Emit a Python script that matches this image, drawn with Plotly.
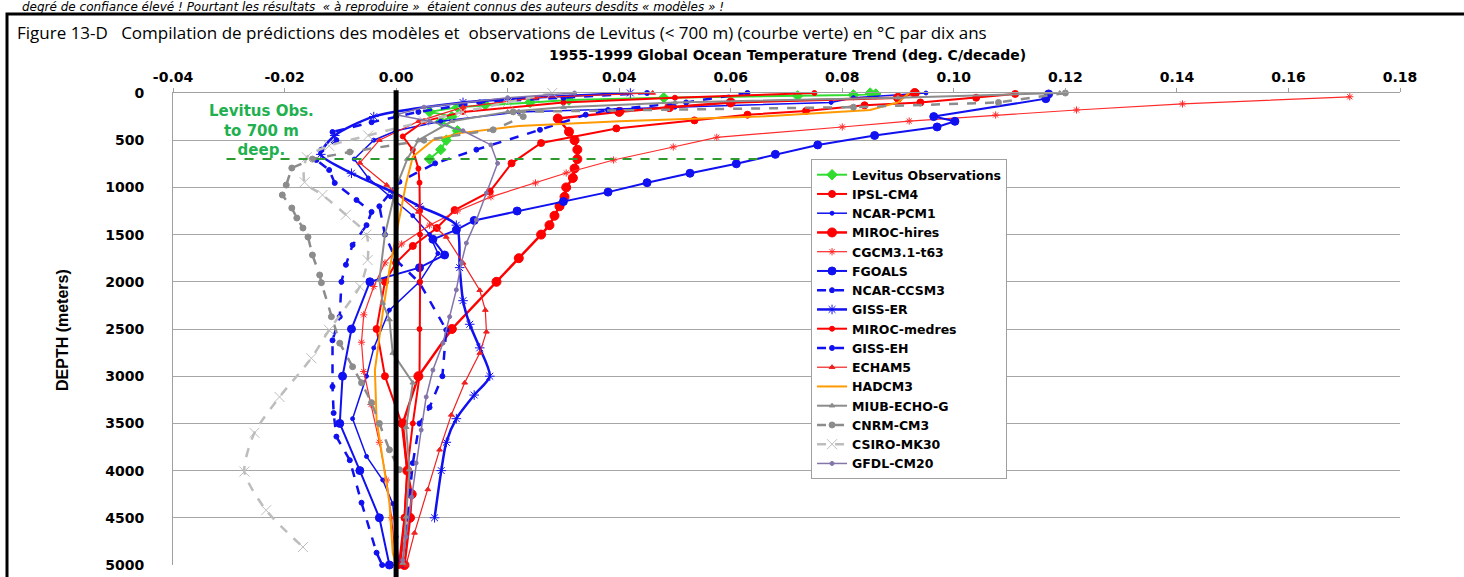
import plotly.graph_objects as go

# ---------------- data (depth in m, trend in deg C / decade) ----------------
x_tick_vals = [-0.04, -0.02, 0.00, 0.02, 0.04, 0.06, 0.08, 0.10, 0.12, 0.14, 0.16, 0.18]
x_tick_text = ["-0.04", "-0.02", "0.00", "0.02", "0.04", "0.06", "0.08", "0.10", "0.12", "0.14", "0.16", "0.18"]
y_tick_vals = [0, 500, 1000, 1500, 2000, 2500, 3000, 3500, 4000, 4500, 5000]
y_tick_text = ["0", "500", "1000", "1500", "2000", "2500", "3000", "3500", "4000", "4500", "5000"]

levitus_depth = [0, 10, 20, 30, 50, 75, 100, 125, 150, 200, 250, 300, 400, 500, 600, 700]
levitus_trend = [0.085, 0.086, 0.082, 0.072, 0.048, 0.031, 0.024, 0.016, 0.011, 0.006, 0.010, 0.008, 0.011, 0.009, 0.008, 0.006]

ipsl_depth = [10, 50, 100, 130, 190, 230, 290, 375, 530, 745, 1045, 1240, 1430, 1620, 1800, 2000, 2500, 3000, 3500, 4000, 4500, 5000]
ipsl_trend = [0.111, 0.104, 0.094, 0.084, 0.0735, 0.063, 0.0535, 0.0395, 0.026, 0.0207, 0.0168, 0.0105, 0.0073, 0.003, 0.000, -0.002, -0.0035, -0.002, 0.001, 0.002, 0.0015, 0.0005]

pcm1_depth = [0, 50, 100, 150, 200, 300, 400, 500, 700, 900, 1100, 1300, 1500, 1700, 2000, 2300, 2700, 3000, 3450, 3850, 4100, 4350, 4700, 5000]
pcm1_trend = [0.095, 0.082, 0.078, 0.05, 0.022, 0.008, 0.0, -0.004, -0.0075, -0.005, -0.001, 0.003, 0.006, 0.0075, 0.0042, -0.0012, -0.004, -0.0053, -0.0078, -0.0053, -0.0024, -0.0006, 0.0, 0.0005]

mirochi_depth = [0, 50, 100, 150, 200, 270, 410, 500, 600, 700, 800, 900, 1000, 1100, 1200, 1300, 1400, 1500, 1750, 2000, 2500, 3000, 3500, 4000, 4250, 4500, 5000]
mirochi_trend = [0.093, 0.09, 0.06, 0.049, 0.04, 0.029, 0.031, 0.032, 0.0325, 0.0325, 0.032, 0.0317, 0.0305, 0.0302, 0.0293, 0.0284, 0.0275, 0.026, 0.022, 0.018, 0.010, 0.004, 0.0012, 0.002, 0.0028, 0.0025, 0.0015]

cgcm_depth = [40, 116, 180, 233, 297, 360, 470, 572, 710, 847, 953, 1100, 1250, 1400, 1600, 1800, 2050, 2350, 2640, 2950, 3300, 3700, 4100, 4500, 5000]
cgcm_trend = [0.171, 0.141, 0.122, 0.1075, 0.092, 0.080, 0.0575, 0.0497, 0.039, 0.0305, 0.025, 0.017, 0.011, 0.006, 0.001, -0.002, -0.004, -0.0058, -0.0062, -0.0058, -0.0045, -0.003, -0.0017, -0.0008, 0.0]

fgoals_depth = [10, 60, 250, 300, 360, 450, 550, 650, 750, 850, 950, 1050, 1150, 1250, 1350, 1450, 1550, 1716, 1850, 2000, 2500, 3000, 3500, 4000, 4500, 5000]
fgoals_trend = [0.117, 0.1165, 0.0964, 0.1002, 0.097, 0.0858, 0.0756, 0.068, 0.061, 0.0527, 0.045, 0.038, 0.030, 0.0217, 0.014, 0.0108, 0.0066, 0.0087, 0.0042, -0.0047, -0.008, -0.0096, -0.0101, -0.0065, -0.003, -0.0012]

ccsm3_depth = [0, 100, 180, 230, 390, 600, 745, 940, 1200, 1500, 1770, 2010, 2510, 3000, 3330, 3500, 3920, 4500, 5000]
ccsm3_trend = [0.063, 0.052, 0.038, 0.034, 0.0258, 0.0144, 0.007, 0.0006, -0.003, -0.002, 0.0, 0.0042, 0.009, 0.0083, 0.006, 0.0042, 0.003, 0.002, 0.001]

gisser_depth = [0, 100, 250, 450, 650, 850, 1050, 1200, 1400, 1850, 2200, 2450, 2700, 3000, 3200, 3450, 3700, 4000, 4500]
gisser_trend = [0.042, 0.012, -0.004, -0.011, -0.0135, -0.008, -0.0006, 0.0042, 0.0108, 0.0114, 0.012, 0.0132, 0.015, 0.0168, 0.014, 0.0108, 0.009, 0.0081, 0.0069]

mirocmed_depth = [0, 50, 100, 200, 300, 460, 600, 800, 950, 1250, 1500, 2000, 2500, 3000, 3500, 4000, 4500, 5000]
mirocmed_trend = [0.075, 0.05, 0.03, 0.012, 0.005, 0.0012, 0.003, 0.004, 0.0042, 0.0043, 0.0043, 0.0043, 0.0042, 0.0042, 0.003, 0.002, 0.0015, 0.0008]

gisseh_depth = [0, 50, 100, 200, 250, 310, 413, 500, 600, 710, 816, 953, 1133, 1260, 1400, 1610, 1820, 2000, 2370, 2620, 3110, 3390, 3640, 3890, 4340, 4870, 5000]
gisseh_trend = [0.045, 0.03, 0.015, 0.004, 0.0, -0.0044, -0.0114, -0.0107, -0.0134, -0.0143, -0.012, -0.011, -0.0071, -0.0044, -0.0053, -0.0078, -0.009, -0.0098, -0.0101, -0.0114, -0.0114, -0.0112, -0.0107, -0.0083, -0.0062, -0.0035, -0.0025]

echam5_depth = [0, 50, 150, 300, 500, 740, 975, 1260, 1525, 1800, 2090, 2300, 2530, 2755, 3070, 3410, 3780, 4200, 4660, 5000]
echam5_trend = [0.046, 0.025, 0.012, 0.004, -0.003, -0.0065, -0.0017, 0.004, 0.009, 0.012, 0.015, 0.016, 0.0162, 0.015, 0.0123, 0.0099, 0.0078, 0.0057, 0.0033, 0.0018]

hadcm3_depth = [0, 100, 180, 250, 300, 350, 425, 500, 675, 955, 1200, 1500, 1875, 2330, 2935, 3460, 3860, 4340, 4870, 5000]
hadcm3_trend = [0.092, 0.09, 0.085, 0.065, 0.04, 0.022, 0.0114, 0.0066, 0.003, 0.0018, 0.001, 0.0, -0.0012, -0.0024, -0.0038, -0.0035, -0.0024, -0.0012, -0.0006, 0.0]

miub_depth = [0, 50, 100, 150, 200, 300, 500, 700, 1000, 1500, 1980, 2225, 2400, 2755, 3070, 3540, 3990, 4490, 4980]
miub_trend = [0.119, 0.09, 0.05, 0.03, 0.02, 0.01, 0.004, 0.002, 0.0, -0.002, -0.003, -0.0024, -0.0012, -0.0006, 0.003, 0.0018, 0.0024, 0.0018, 0.0012]

cnrm_depth = [0, 100, 150, 200, 250, 390, 500, 625, 700, 795, 975, 1080, 1218, 1324, 1430, 1525, 1716, 1928, 2010, 2370, 2650, 2900, 3070, 3280, 3500, 3780, 3990]
cnrm_trend = [0.12, 0.108, 0.082, 0.021, 0.0228, 0.0174, 0.005, -0.0083, -0.015, -0.0187, -0.0197, -0.0204, -0.0187, -0.0178, -0.0167, -0.0158, -0.015, -0.0137, -0.0134, -0.0116, -0.0101, -0.0078, -0.0062, -0.0044, -0.003, -0.0012, 0.0006]

csiro_depth = [0, 100, 200, 300, 450, 560, 680, 945, 1080, 1290, 1500, 1770, 2050, 2510, 2810, 3220, 3600, 4010, 4420, 4810]
csiro_trend = [0.028, 0.02, 0.012, 0.005, -0.005, -0.012, -0.016, -0.0164, -0.0132, -0.009, -0.0053, -0.0051, -0.0065, -0.012, -0.0152, -0.0209, -0.0254, -0.0272, -0.0233, -0.0167]

gfdl_depth = [0, 50, 150, 230, 300, 400, 550, 745, 1060, 1345, 1590, 1800, 2085, 2370, 2650, 2935, 3220, 3570, 3920, 4280, 4700, 4950]
gfdl_trend = [0.032, 0.02, 0.005, 0.0, 0.006, 0.012, 0.017, 0.0182, 0.0162, 0.0144, 0.0126, 0.0117, 0.0108, 0.0096, 0.0084, 0.0066, 0.0054, 0.0045, 0.0036, 0.0028, 0.0018, 0.0012]

levitus_line_depth = [700, 700]
levitus_line_trend = [-0.0304, 0.0657]

# ---------------- styles ----------------
RED = "#FF0000"
BLUE = "#1010F0"
GREEN = "#2FDC2F"
ORANGE = "#FF9A00"
GRAY = "#8C8C8C"
LGRAY = "#BDBDBD"
PGRAY = "#8475A8"

series = [
    ("Levitus Observations", levitus_trend, levitus_depth, GREEN, 2, "solid", "diamond", 8, "linear"),
    ("IPSL-CM4", ipsl_trend, ipsl_depth, RED, 2, "solid", "circle", 7, "linear"),
    ("NCAR-PCM1", pcm1_trend, pcm1_depth, BLUE, 1.5, "solid", "circle", 4, "linear"),
    ("MIROC-hires", mirochi_trend, mirochi_depth, RED, 2.5, "solid", "circle", 9, "linear"),
    ("CGCM3.1-t63", cgcm_trend, cgcm_depth, "#FF2A2A", 1.2, "solid", "asterisk-open", 6, "linear"),
    ("FGOALS", fgoals_trend, fgoals_depth, BLUE, 2, "solid", "circle", 8, "linear"),
    ("NCAR-CCSM3", ccsm3_trend, ccsm3_depth, BLUE, 2.5, "dash", "circle", 5, "linear"),
    ("GISS-ER", gisser_trend, gisser_depth, BLUE, 2.5, "solid", "asterisk-open", 8, "spline"),
    ("MIROC-medres", mirocmed_trend, mirocmed_depth, RED, 2, "solid", "circle", 5, "linear"),
    ("GISS-EH", gisseh_trend, gisseh_depth, BLUE, 2.5, "dash", "circle", 5, "linear"),
    ("ECHAM5", echam5_trend, echam5_depth, "#F02020", 1.2, "solid", "triangle-up", 5, "linear"),
    ("HADCM3", hadcm3_trend, hadcm3_depth, ORANGE, 2, "solid", None, 0, "linear"),
    ("MIUB-ECHO-G", miub_trend, miub_depth, GRAY, 2, "solid", "triangle-up", 5, "linear"),
    ("CNRM-CM3", cnrm_trend, cnrm_depth, GRAY, 2.5, "dash", "circle", 6, "linear"),
    ("CSIRO-MK30", csiro_trend, csiro_depth, LGRAY, 2.5, "dash", "x-thin-open", 10, "spline"),
    ("GFDL-CM20", gfdl_trend, gfdl_depth, PGRAY, 1.5, "solid", "circle", 4, "linear"),
]

fig = go.Figure()

for name, xs, ys, col, w, dash, sym, msz, shape in series:
    mode = "lines+markers" if sym else "lines"
    marker = dict(symbol=sym, size=msz, color=col, line=dict(color=col, width=1)) if sym else None
    fig.add_trace(go.Scatter(
        x=xs, y=ys, name=name, mode=mode,
        line=dict(color=col, width=w, dash=dash, shape=shape, smoothing=0.7),
        marker=marker, cliponaxis=False,
    ))

# green dashed 700 m reference line
fig.add_trace(go.Scatter(
    x=levitus_line_trend, y=levitus_line_depth, mode="lines", showlegend=False,
    line=dict(color="#2E9A2E", width=2, dash="dash"),
))

TICKFONT = dict(family="DejaVu Sans", size=14, color="black", weight="bold")

fig.update_layout(
    width=1464, height=577,
    margin=dict(l=173, r=64, t=93, b=12, autoexpand=False),
    paper_bgcolor="white", plot_bgcolor="white",
    showlegend=True,
    legend=dict(
        x=0.52, y=0.86, xanchor="left", yanchor="top",
        bgcolor="white", bordercolor="#A0A0A0", borderwidth=1,
        font=dict(family="DejaVu Sans", size=12.5, color="black", weight="bold"),
        itemwidth=30, tracegroupgap=0,
    ),
    xaxis=dict(
        side="top", range=[-0.04, 0.18], tickvals=x_tick_vals, ticktext=x_tick_text,
        showgrid=False, zeroline=False, showline=True, linecolor="#A0A0A0", linewidth=1,
        ticks="outside", ticklen=4, tickcolor="#A0A0A0", tickfont=TICKFONT,
        automargin=False,
    ),
    yaxis=dict(
        range=[5000, 0], tickvals=y_tick_vals, ticktext=y_tick_text,
        showgrid=True, gridcolor="#A6A6A6", gridwidth=1, zeroline=False,
        showline=True, linecolor="#A0A0A0", linewidth=1, ticks="",
        tickfont=TICKFONT, ticklabelstandoff=25, automargin=False,
    ),
)

# thick black zero line
fig.add_shape(type="line", xref="x", yref="paper", x0=0, x1=0, y0=-0.03, y1=1.006,
              line=dict(color="black", width=5))

# outer black frame (top and left edges visible)
fig.add_shape(type="rect", xref="paper", yref="paper",
              x0=(7 - 173) / 1227, x1=(1475 - 173) / 1227, y0=-0.06, y1=(565 - 14) / 472,
              line=dict(color="black", width=3), fillcolor="rgba(0,0,0,0)")

# texts
fig.add_annotation(
    text="degré de confiance élevé ! Pourtant les résultats\u00a0\u00a0\u00ab\u00a0à reproduire\u00a0\u00bb\u00a0\u00a0étaient connus des auteurs desdits \u00ab\u00a0modèles\u00a0\u00bb !",
    xref="paper", yref="paper", x=(20 - 173) / 1227, y=(565 - 6.5) / 472,
    xanchor="left", yanchor="middle", showarrow=False,
    font=dict(family="DejaVu Sans", size=12, color="black", style="italic"),
)
fig.add_annotation(
    text="Figure 13-D\u00a0\u00a0\u00a0Compilation de prédictions des modèles et\u00a0 observations de Levitus (&lt; 700 m) (courbe verte) en °C par dix ans",
    xref="paper", yref="paper", x=(15 - 173) / 1227, y=(565 - 33) / 472,
    xanchor="left", yanchor="middle", showarrow=False,
    font=dict(family="Open Sans", size=17, color="black"),
)
fig.add_annotation(
    text="1955-1999 Global Ocean Temperature Trend (deg. C/decade)",
    xref="paper", yref="paper", x=(787 - 173) / 1227, y=(565 - 55) / 472,
    xanchor="center", yanchor="middle", showarrow=False,
    font=dict(family="DejaVu Sans", size=14, color="black", weight="bold"),
)
fig.add_annotation(
    text="DEPTH (meters)",
    xref="paper", yref="paper", x=(62 - 173) / 1227, y=(565 - 330) / 472,
    xanchor="center", yanchor="middle", showarrow=False, textangle=-90,
    font=dict(family="Liberation Sans Narrow, Liberation Sans", size=16, color="black", weight="bold"),
)
fig.add_annotation(
    text="Levitus Obs.<br>to 700 m<br>deep.",
    xref="x", yref="y", x=-0.0241, y=400,
    xanchor="center", yanchor="middle", showarrow=False,
    font=dict(family="DejaVu Sans", size=15, color="#1FB04F", weight="bold"),
)

# remove the browser's default 8px page margin so the figure sits at the window origin
fig.write_html(
    "out.html",
    config={"displayModeBar": False},
    post_script="document.body.style.margin='0';document.body.style.overflow='hidden';",
)
